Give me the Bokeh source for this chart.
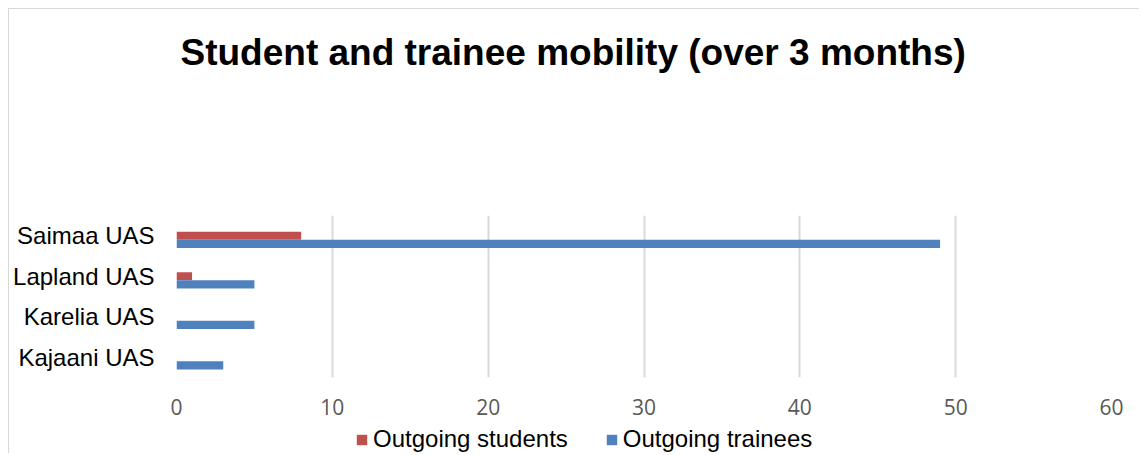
from bokeh.plotting import figure
from bokeh.layouts import column
from bokeh.models import (ColumnDataSource, FactorRange, Range1d, FixedTicker,
                          Legend, LegendItem, Title)
from bokeh.transform import dodge
from bokeh.embed import file_html
from bokeh.resources import INLINE

# ---- data ----
categories = ["Kajaani UAS", "Karelia UAS", "Lapland UAS", "Saimaa UAS"]
outgoing_students = [0, 0, 1, 8]
outgoing_trainees = [3, 5, 5, 49]
x_ticks = [0, 10, 20, 30, 40, 50, 60]
title_text = "Student and trainee mobility (over 3 months)"
series_names = ["Outgoing students", "Outgoing trainees"]

RED = "#C0504D"
BLUE = "#4F81BD"

src = ColumnDataSource(dict(cat=categories, students=outgoing_students,
                            trainees=outgoing_trainees))

p = figure(y_range=FactorRange(*categories, range_padding=0),
           x_range=Range1d(0, 60),
           frame_width=935, frame_height=162,
           min_border_left=167, min_border_right=28,
           min_border_top=206, min_border_bottom=46,
           output_backend="svg", toolbar_location=None,
           background_fill_color="white", border_fill_color="white")
p.outline_line_color = None

r1 = p.hbar(y=dodge("cat", 0.0, range=p.y_range), right="students", height=0.2,
            left=0, source=src, color=RED, line_color=None)
r2 = p.hbar(y=dodge("cat", -0.2, range=p.y_range), right="trainees", height=0.2,
            left=0, source=src, color=BLUE, line_color=None)

# spacer between title and plot, then the title itself
spacer = Title(text=" ", text_font_size="1px", standoff=140)
p.add_layout(spacer, "above")
t = Title(text=title_text, align="left", offset=4, standoff=0,
          text_font="Liberation Sans", text_font_size="37px",
          text_font_style="bold", text_color="black")
p.add_layout(t, "above")

# x axis
xa = p.xaxis[0]
xa.ticker = FixedTicker(ticks=x_ticks)
xa.axis_line_color = None
xa.major_tick_line_color = None
xa.minor_tick_line_color = None
xa.major_tick_out = 0
xa.major_tick_in = 0
xa.major_label_text_font = "Open Sans"
xa.major_label_text_font_size = "21px"
xa.major_label_text_color = "#595959"
xa.major_label_standoff = 21

# y axis
ya = p.yaxis[0]
ya.axis_line_color = None
ya.major_tick_line_color = None
ya.minor_tick_line_color = None
ya.major_tick_out = 0
ya.major_tick_in = 0
ya.major_label_text_font = "Liberation Sans"
ya.major_label_text_font_size = "24px"
ya.major_label_text_color = "black"
ya.major_label_standoff = 22

p.xgrid.grid_line_color = "#D9D9D9"
p.xgrid.grid_line_width = 2
p.ygrid.grid_line_color = None

# ---- legend strip (separate small figure below the chart) ----
lg = figure(width=1130, height=30, min_border=0,
            x_range=Range1d(0, 1), y_range=Range1d(0, 1),
            output_backend="svg", toolbar_location=None,
            background_fill_color="white", border_fill_color="white")
lg.outline_line_color = None
lg.axis.visible = False
lg.grid.visible = False
# key renderers for the legend swatches (kept outside the visible range)
k1 = lg.hbar(y=-10, right="students", left=0, height=0.2, source=src,
             color=RED, line_color=None)
k2 = lg.hbar(y=-10, right="trainees", left=0, height=0.2, source=src,
             color=BLUE, line_color=None)

legend = Legend(items=[LegendItem(label=series_names[0], renderers=[k1], index=0),
                       LegendItem(label=series_names[1], renderers=[k2], index=0)],
                orientation="horizontal", location=(179, 0),
                padding=0, margin=0, spacing=37, label_standoff=5,
                glyph_width=13, glyph_height=13,
                label_text_font="Liberation Sans", label_text_font_size="24px",
                label_text_color="black",
                border_line_color=None, background_fill_alpha=0)
lg.add_layout(legend, "center")

layout = column(p, lg, spacing=0,
                styles={"margin-left": "8px", "margin-top": "8px",
                        "border-left": "1px solid #D9D9D9",
                        "border-top": "1px solid #D9D9D9"})

open("out.html", "w").write(file_html(layout, INLINE))
